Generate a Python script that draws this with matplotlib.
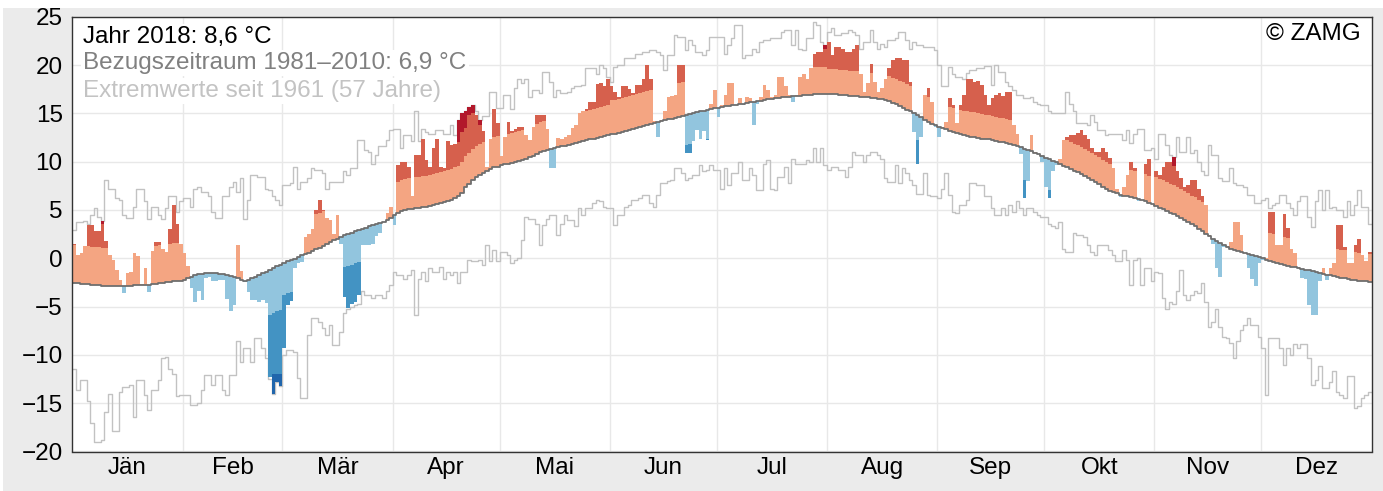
import numpy as np
import matplotlib
matplotlib.use('Agg')
import matplotlib.pyplot as plt
from matplotlib.patches import Rectangle

# ---------------- data ----------------
months = ['Jän', 'Feb', 'Mär', 'Apr', 'Mai', 'Jun', 'Jul', 'Aug', 'Sep', 'Okt', 'Nov', 'Dez']
month_days = [31, 28, 31, 30, 31, 30, 31, 31, 30, 31, 30, 31]

# daily mean temperature 2018 (°C)
temp_2018 = [
    1.5, 0.3, 0.5, 1.3, 3.4, 3.4, 2.8, 2.8, 3.9, 1.8,
    0.3, -0.2, -1.2, -2.2, -3.6, -1.5, -1.4, 0.5, 0.2, -2.7,
    -1.0, -3.5, 0.8, 1.7, 1.7, 1.0, 0.7, 3.0, 5.5, 3.5,
    1.5, 0.6, -0.8, -3.1, -4.5, -3.4, -4.3, -2.0, -1.9, -2.3,
    -2.3, -2.2, -2.2, -4.2, -5.5, -4.8, 1.4, -1.3, -2.5, -3.5,
    -4.3, -4.3, -4.5, -4.3, -4.6, -12.3, -14.0, -12.8, -13.2, -9.3,
    -4.8, -4.4, -1.0, -0.5, -0.4, 2.2, 2.5, 3.0, 5.0, 6.0,
    5.0, 4.2, 4.0, 2.5, 4.5, 1.5, -4.0, -5.1, -4.7, -4.5,
    -3.8, 1.4, 1.4, 1.4, 1.5, 2.3, 2.6, 3.8, 4.7, 5.3,
    3.4, 9.7, 10.0, 10.0, 9.4, 6.4, 10.7, 10.7, 12.4, 10.2,
    9.5, 11.4, 12.4, 9.4, 9.3, 12.1, 11.7, 11.8, 14.3, 15.0,
    15.2, 15.7, 15.9, 14.8, 14.3, 13.2, 9.5, 12.4, 15.5, 14.0,
    10.6, 12.6, 14.1, 13.2, 13.4, 13.6, 13.6, 12.8, 12.2, 13.6,
    14.8, 14.8, 14.8, 13.4, 9.3, 9.3, 12.5, 12.3, 12.6, 12.8,
    13.5, 13.8, 15.0, 15.2, 15.5, 16.2, 16.2, 18.0, 18.1, 17.8,
    18.6, 17.8, 17.2, 16.7, 17.8, 17.8, 17.5, 17.1, 17.9, 17.9,
    18.6, 20.0, 18.6, 14.2, 12.6, 14.3, 15.3, 16.7, 16.8, 16.9,
    20.0, 20.0, 10.9, 10.9, 12.1, 13.3, 12.3, 13.2, 12.2, 16.0,
    17.4, 14.6, 15.9, 16.9, 18.1, 18.1, 15.9, 16.6, 15.9, 16.7,
    16.6, 13.8, 16.0, 16.7, 17.9, 17.4, 16.7, 16.9, 18.8, 18.8,
    17.8, 16.9, 16.2, 16.9, 18.8, 19.1, 18.6, 19.7, 21.2, 21.4,
    21.4, 22.1, 22.4, 21.0, 21.9, 21.9, 21.7, 21.4, 21.4, 21.7,
    22.1, 19.1, 17.2, 18.1, 20.1, 18.3, 17.2, 17.6, 18.6, 19.7,
    20.5, 20.7, 20.7, 20.5, 20.5, 18.3, 13.1, 9.8, 12.6, 16.9,
    17.6, 16.2, 13.6, 12.6, 13.6, 14.1, 16.6, 15.9, 14.0, 15.9,
    16.9, 18.6, 18.6, 18.3, 18.4, 17.9, 16.9, 15.9, 16.6, 16.9,
    17.1, 16.8, 17.2, 17.2, 13.8, 12.9, 10.8, 6.2, 8.0, 12.8,
    11.0, 10.8, 10.0, 7.4, 6.2, 9.0, 9.7, 10.3, 12.2, 12.6,
    12.8, 12.8, 13.0, 13.3, 12.8, 12.4, 11.4, 11.0, 11.0, 11.4,
    11.0, 10.4, 9.3, 7.2, 6.3, 7.4, 8.6, 10.0, 9.3, 5.9,
    6.0, 9.8, 10.3, 5.6, 9.0, 8.6, 9.5, 10.0, 10.0, 10.5,
    9.0, 8.3, 7.4, 7.6, 8.1, 8.1, 7.2, 6.4, 5.5, 2.4,
    1.5, -1.0, -1.9, 1.2, 1.3, 1.7, 3.8, 3.8, 2.4, 0.5,
    -1.0, -2.1, -2.9, -0.5, -0.2, 0.0, 4.8, 4.8, 1.4, 1.4,
    4.6, 3.1, 1.0, 0.5, -0.9, -2.0, -2.1, -4.8, -5.9, -5.9,
    -2.4, -1.0, -2.2, -1.0, -0.5, 3.4, 3.4, 1.2, -0.5, -0.5,
    1.4, 2.0, 0.3, -0.3, 0.7,
]

# reference period 1981-2010 daily mean (°C)
clim_1981_2010 = [
    -2.6, -2.6, -2.7, -2.7, -2.7, -2.8, -2.8, -2.8, -2.9, -2.9,
    -2.9, -2.9, -2.9, -2.9, -2.9, -2.9, -2.9, -2.8, -2.8, -2.8,
    -2.8, -2.8, -2.7, -2.7, -2.6, -2.6, -2.5, -2.5, -2.4, -2.4,
    -2.3, -2.2, -2.0, -1.9, -1.7, -1.6, -1.6, -1.5, -1.5, -1.5,
    -1.5, -1.6, -1.6, -1.7, -1.8, -1.9, -2.0, -2.2, -2.3, -2.2,
    -2.0, -1.9, -1.7, -1.5, -1.4, -1.2, -1.0, -0.8, -0.7, -0.5,
    -0.3, -0.2, -0.1, 0.1, 0.3, 0.4, 0.6, 0.8, 1.0, 1.1,
    1.3, 1.5, 1.7, 1.9, 2.0, 2.2, 2.4, 2.5, 2.6, 2.8,
    2.9, 3.0, 3.1, 3.3, 3.4, 3.5, 3.7, 3.8, 4.0, 4.2,
    4.5, 4.7, 4.9, 5.0, 5.1, 5.1, 5.2, 5.2, 5.3, 5.3,
    5.4, 5.5, 5.6, 5.7, 5.8, 5.9, 6.0, 6.2, 6.4, 6.8,
    7.4, 7.7, 8.1, 8.4, 8.6, 8.8, 9.0, 9.2, 9.4, 9.5,
    9.7, 9.8, 9.8, 9.9, 10.0, 10.1, 10.2, 10.3, 10.5, 10.6,
    10.8, 11.0, 11.1, 11.2, 11.3, 11.4, 11.5, 11.6, 11.6, 11.7,
    11.8, 11.9, 12.0, 12.1, 12.2, 12.3, 12.4, 12.5, 12.6, 12.7,
    12.8, 12.9, 12.9, 13.0, 13.1, 13.2, 13.3, 13.4, 13.5, 13.6,
    13.7, 13.8, 13.9, 14.0, 14.1, 14.2, 14.3, 14.4, 14.4, 14.5,
    14.6, 14.7, 14.8, 14.9, 15.0, 15.1, 15.2, 15.3, 15.4, 15.5,
    15.6, 15.6, 15.7, 15.8, 15.8, 15.9, 15.9, 16.0, 16.0, 16.1,
    16.2, 16.2, 16.3, 16.3, 16.4, 16.5, 16.5, 16.6, 16.6, 16.7,
    16.7, 16.7, 16.8, 16.8, 16.8, 16.9, 16.9, 16.9, 17.0, 17.0,
    17.0, 17.0, 17.0, 17.0, 17.0, 16.9, 16.9, 16.9, 16.8, 16.8,
    16.8, 16.7, 16.7, 16.7, 16.6, 16.6, 16.5, 16.5, 16.4, 16.3,
    16.1, 16.0, 15.8, 15.6, 15.4, 15.2, 15.0, 14.8, 14.6, 14.3,
    14.1, 13.9, 13.8, 13.6, 13.5, 13.4, 13.2, 13.1, 13.0, 12.9,
    12.8, 12.7, 12.6, 12.6, 12.5, 12.4, 12.3, 12.3, 12.2, 12.1,
    12.0, 12.0, 11.9, 11.8, 11.7, 11.6, 11.5, 11.3, 11.2, 11.1,
    10.9, 10.8, 10.6, 10.4, 10.3, 10.1, 10.0, 9.8, 9.6, 9.4,
    9.2, 9.0, 8.9, 8.7, 8.5, 8.3, 8.1, 7.9, 7.7, 7.4,
    7.2, 7.0, 6.9, 6.8, 6.6, 6.5, 6.4, 6.3, 6.2, 6.1,
    6.0, 5.9, 5.7, 5.6, 5.4, 5.2, 5.1, 4.9, 4.7, 4.6,
    4.4, 4.2, 4.0, 3.8, 3.5, 3.3, 3.0, 2.8, 2.5, 2.3,
    2.0, 1.8, 1.6, 1.4, 1.2, 1.0, 0.9, 0.8, 0.7, 0.5,
    0.4, 0.3, 0.2, 0.1, 0.0, -0.2, -0.3, -0.4, -0.5, -0.6,
    -0.7, -0.8, -0.9, -0.9, -1.0, -1.1, -1.2, -1.2, -1.3, -1.4,
    -1.5, -1.6, -1.7, -1.7, -1.8, -1.9, -2.0, -2.0, -2.1, -2.2,
    -2.2, -2.3, -2.4, -2.4, -2.5,
]

# daily extreme values since 1961 (°C)
record_max = [
    2.9, 3.8, 3.8, 3.9, 3.6, 4.5, 5.2, 4.3, 3.9, 8.1,
    7.2, 7.2, 6.2, 6.0, 4.5, 4.2, 4.2, 5.3, 7.2, 7.2,
    5.9, 4.1, 5.3, 5.3, 4.5, 4.1, 5.2, 6.4, 6.4, 4.8,
    5.9, 6.2, 6.2, 5.3, 7.2, 7.4, 6.9, 6.9, 6.4, 4.8,
    4.2, 4.2, 6.4, 6.4, 7.4, 7.9, 6.9, 8.3, 4.1, 6.0,
    8.6, 8.6, 8.4, 8.4, 7.2, 7.1, 6.4, 6.0, 5.5, 7.6,
    7.6, 7.8, 9.5, 7.2, 7.9, 7.9, 8.3, 9.3, 9.1, 9.1,
    8.8, 7.2, 7.9, 7.9, 7.9, 7.9, 9.0, 8.6, 9.3, 9.3,
    12.2, 12.2, 11.2, 11.0, 9.8, 10.7, 11.6, 11.6, 12.2, 13.3,
    13.4, 13.4, 11.4, 12.8, 12.8, 12.1, 15.2, 12.1, 13.4, 13.1,
    12.9, 12.9, 13.3, 13.3, 12.9, 12.9, 13.8, 12.8, 14.3, 15.0,
    15.2, 15.7, 15.9, 15.2, 14.3, 14.7, 14.7, 17.2, 17.2, 15.6,
    15.6, 16.9, 16.9, 15.5, 17.6, 18.6, 18.1, 18.6, 16.7, 17.4,
    17.4, 17.1, 19.3, 19.3, 18.3, 16.7, 17.4, 17.1, 17.1, 17.2,
    17.6, 17.8, 17.8, 17.9, 19.7, 19.7, 19.7, 19.1, 20.0, 19.7,
    18.8, 18.3, 19.8, 20.0, 20.0, 20.7, 20.7, 20.7, 21.2, 21.2,
    21.4, 21.4, 21.6, 21.6, 21.4, 21.0, 19.5, 21.0, 21.0, 23.1,
    22.9, 22.9, 21.6, 22.6, 22.1, 21.4, 21.4, 21.0, 21.6, 22.9,
    22.9, 22.9, 22.9, 21.2, 22.1, 22.8, 24.1, 24.1, 20.7, 21.0,
    21.0, 21.7, 21.4, 22.4, 22.6, 22.6, 22.8, 22.8, 22.8, 23.4,
    23.6, 23.6, 22.1, 23.6, 21.7, 21.6, 22.8, 22.8, 24.5, 24.1,
    22.4, 22.1, 23.4, 23.8, 23.1, 23.1, 23.3, 23.3, 23.6, 23.4,
    23.1, 21.7, 22.4, 22.4, 23.6, 22.4, 21.7, 22.2, 21.9, 22.6,
    22.6, 22.8, 23.4, 23.4, 22.6, 21.7, 22.4, 22.1, 22.1, 21.9,
    21.9, 21.9, 21.6, 20.0, 17.8, 17.8, 19.8, 19.1, 18.8, 18.8,
    18.6, 19.2, 19.5, 19.5, 19.7, 19.7, 19.9, 19.9, 17.9, 20.0,
    19.3, 19.3, 18.3, 17.8, 17.4, 16.9, 16.9, 16.6, 16.6, 16.7,
    16.2, 16.0, 15.9, 15.9, 15.2, 15.0, 15.0, 15.0, 15.0, 17.2,
    16.0, 15.2, 14.0, 14.0, 14.0, 13.8, 14.8, 14.1, 13.3, 13.3,
    12.8, 12.9, 12.9, 12.9, 12.9, 12.2, 13.3, 11.9, 12.9, 13.4,
    13.4, 11.2, 11.2, 11.4, 10.3, 12.9, 12.9, 11.7, 10.7, 10.5,
    12.6, 11.0, 11.0, 12.6, 10.9, 11.2, 10.0, 9.0, 8.6, 11.7,
    10.7, 10.7, 8.3, 8.0, 8.0, 9.3, 7.8, 7.6, 7.6, 7.4,
    6.6, 6.6, 5.7, 5.7, 6.0, 6.2, 5.2, 5.5, 5.7, 6.6,
    6.6, 5.7, 5.2, 4.5, 5.9, 6.4, 6.4, 4.3, 3.2, 5.9,
    7.1, 5.0, 7.1, 5.2, 5.3, 5.0, 5.0, 4.3, 5.9, 4.5,
    5.5, 7.1, 5.3, 5.3, 3.6,
]

record_min = [
    -11.5, -13.6, -12.6, -12.6, -14.8, -17.1, -19.0, -19.0, -18.8, -15.9,
    -14.0, -17.9, -17.9, -13.8, -13.3, -13.3, -13.1, -16.4, -12.6, -12.6,
    -14.1, -15.7, -13.6, -13.6, -12.6, -10.3, -10.2, -11.5, -12.0, -14.3,
    -14.1, -14.1, -14.1, -15.2, -15.2,
    -15.0, -13.6, -12.1, -12.1, -13.1, -12.1, -12.1, -13.6, -14.1, -12.1,
    -12.1, -8.6, -10.7, -9.3, -9.3, -10.7, -8.3, -8.3, -9.3, -10.3,
    -12.5, -14.0, -12.8, -13.2, -10.0, -9.5, -9.5, -9.7, -12.4, -14.5,
    -14.5, -7.9, -6.2, -6.2, -6.6, -7.2, -7.9, -6.9,
    -9.0, -9.0, -7.6, -5.7, -5.2, -5.0, -4.8, -4.7, -3.4, -3.8,
    -3.8, -4.1, -3.8, -3.8, -4.1, -3.4, -2.8, -1.4, -1.7, -1.7,
    -2.1, -1.7, -1.2, -5.9, -2.1, -1.4, -2.4, -1.0, -1.4, -1.4,
    -0.9, -2.1, -1.4, -1.7, -1.4,
    -2.6, -1.4, -1.4, -0.2, -0.3, -0.3, -0.2, -0.7, 1.4, -0.3,
    0.9, -0.3, 0.7, 0.7, 0.3, -0.5, -0.2, 0.0, 1.9, 4.3,
    4.1, 4.1, 3.6, 1.4, 3.4, 4.1, 4.5, 4.5, 2.4, 3.6,
    4.5, 4.0, 4.0, 3.3, 5.2, 4.5, 5.2,
    5.2, 5.7, 6.0, 5.9, 5.3, 5.2, 5.2, 3.4, 4.5, 4.5,
    5.3, 5.5, 6.0, 6.0, 6.2, 6.6, 6.6, 5.7, 5.3, 6.6,
    7.8, 7.8, 8.0, 8.1, 9.3, 9.3, 8.8, 8.1, 8.3, 8.6,
    8.6, 9.7, 9.0, 9.1, 9.7, 9.1,
    9.1, 7.2, 9.3, 7.6, 8.8, 8.8, 10.0, 8.1, 8.1, 9.3,
    8.6, 7.1, 7.1, 9.8, 10.2, 7.2, 7.1, 8.4, 8.4, 9.5,
    7.8, 10.3, 9.8, 9.8, 9.8, 10.2, 10.0, 11.4, 10.0, 11.4,
    9.7, 9.1, 9.5, 9.5, 9.1, 9.1, 8.4, 9.5,
    11.0, 10.7, 10.7, 10.0, 10.7, 11.0, 11.0, 10.7, 10.3, 8.3,
    7.9, 7.9, 9.7, 7.8, 9.3, 8.8, 8.1, 7.6, 6.7, 6.7,
    8.8, 6.6, 6.4, 6.4, 6.2, 7.2, 8.8, 6.6, 4.8, 4.7,
    5.5, 5.5, 6.0, 7.8, 7.8,
    7.6, 7.6, 6.4, 6.4, 5.2, 4.5, 4.5, 5.2, 4.5, 5.5,
    4.8, 5.9, 5.2, 4.5, 5.2, 5.2, 4.8, 4.5, 4.3, 4.3,
    3.6, 3.3, 3.1, 3.8, 1.0, 0.7, 0.7, 2.6, 2.4, 2.4,
    2.2, 1.4, 0.7, 0.3, 1.4, 1.4, 1.4, 0.9,
    0.3, -0.3, -0.3, 0.9, -0.2, -2.8, -0.2, 0.0, -2.8, -1.0,
    -1.0, -2.4, -1.4, -1.5, -4.1, -5.2, -4.5, -4.7, -3.4, -1.2,
    -3.8, -4.3, -3.8, -3.4, -3.6, -2.6, -4.5, -7.1, -6.6, -5.3,
    -7.1, -8.1, -8.3, -8.8, -10.3,
    -8.6, -7.4, -6.9, -6.2, -6.9, -6.9, -8.1, -9.3, -14.1, -8.3,
    -8.3, -8.3, -9.3, -11.0, -9.3, -10.0, -8.9, -9.3, -8.9, -8.9,
    -10.3, -13.1, -12.6, -11.2, -13.4, -13.4, -12.8, -11.7, -13.8, -14.1,
    -14.5, -12.2, -12.2, -15.5, -15.3, -14.5, -14.1, -13.8,
]

# days on which 2018 broke the old record, and the old record value
record_days = [8, 56, 57, 58, 108, 109, 110, 111, 112, 114, 211, 309]
record_prev = [3.6, -12.0, -12.0, -12.0, 12.0, 13.1, 13.5, 14.8, 15.0, 13.8, 21.7, 9.6]

# width of the "normal" anomaly band per month (°C above / below reference)
band_upper = [4.0, 3.8, 3.6, 3.2, 3.1, 3.5, 2.8, 2.6, 2.5, 2.8, 3.0, 2.9]
band_lower = [5.0, 4.7, 3.3, 3.2, 3.0, 3.1, 2.8, 2.6, 3.2, 3.2, 4.0, 5.0]

# ---------------- styling ----------------
plt.rcParams['font.family'] = ['Liberation Sans', 'DejaVu Sans']
FS = 17.5
C_LR, C_R, C_DR = '#f4a582', '#d6604d', '#b2182b'
C_LB, C_B, C_DB = '#92c5de', '#4393c3', '#2166ac'

W, H = 1383, 491
fig = plt.figure(figsize=(W / 100, H / 100), dpi=100)
fig.patch.set_facecolor('white')
fig.add_artist(Rectangle((3 / W, 0), 1, (H - 8) / H, transform=fig.transFigure,
                         facecolor='#ebebeb', edgecolor='none', zorder=-10))

ax = fig.add_axes([72.4 / W, (H - 451.5) / H, 1299.1 / W, (451.5 - 16.8) / H])
ax.set_facecolor('white')

T = np.array(temp_2018, float)
C = np.array(clim_1981_2010, float)
MX = np.array(record_max, float)
MN = np.array(record_min, float)
n = len(T)
x = np.arange(n)
midx = np.repeat(np.arange(12), month_days)[:n]
wu = np.array(band_upper)[midx]
wl = np.array(band_lower)[midx]
prev = T.copy()
for d, p in zip(record_days, record_prev):
    prev[d] = p


def bars(mask, lo, hi, color):
    m = mask & (hi > lo)
    ax.bar(x[m], (hi - lo)[m], bottom=lo[m], width=1.0, align='edge',
           color=color, linewidth=0, antialiased=False, zorder=2)


warm = T > C
cold = T < C
# warm side
bars(warm, C, np.minimum(T, C + wu), C_LR)
bars(warm, C + wu, np.minimum(T, np.maximum(prev, C + wu)), C_R)
bars(warm, np.maximum(prev, C), T, C_DR)
# cold side
bars(cold, np.maximum(T, C - wl), C, C_LB)
bars(cold, np.maximum(T, np.minimum(prev, C - wl)), C - wl, C_B)
bars(cold, T, np.minimum(prev, C), C_DB)

xe = np.arange(n + 1)
ax.step(xe, np.r_[MX, MX[-1]], where='post', color='#c2c2c2', lw=1.0, zorder=1.5)
ax.step(xe, np.r_[MN, MN[-1]], where='post', color='#c2c2c2', lw=1.0, zorder=1.5)
ax.step(xe, np.r_[C, C[-1]], where='post', color='#6e6e6e', lw=1.3, zorder=4)

month_starts = np.r_[0, np.cumsum(month_days)]
ax.set_xlim(0, 365)
ax.set_ylim(-20, 25)
ax.set_yticks(np.arange(-20, 26, 5))
ax.set_xticks(month_starts[1:-1])
ax.set_xticklabels([])
ax.set_xticks((month_starts[:-1] + month_starts[1:]) / 2, minor=True)
ax.set_xticklabels(months, minor=True)
ax.tick_params(axis='both', which='both', length=0, labelsize=FS, colors='black')
ax.tick_params(axis='y', pad=7)
ax.tick_params(axis='x', which='minor', pad=4)
ax.grid(True, which='major', color='#e8e8e8', lw=1.0)
ax.set_axisbelow(True)
for s in ax.spines.values():
    s.set_color('#333333')
    s.set_linewidth(1.0)
    s.set_zorder(6)

bb = dict(facecolor='white', edgecolor='none', pad=1.5)
ax.text(0.0085, 0.9404, 'Jahr 2018: 8,6 °C', transform=ax.transAxes, fontsize=FS,
        color='black', va='baseline', ha='left', bbox=bb, zorder=5)
ax.text(0.0085, 0.880, 'Bezugszeitraum 1981–2010: 6,9 °C', transform=ax.transAxes,
        fontsize=FS, color='#808080', va='baseline', ha='left', bbox=bb, zorder=5)
ax.text(0.0085, 0.8162, 'Extremwerte seit 1961 (57 Jahre)', transform=ax.transAxes,
        fontsize=FS, color='#c3c3c3', va='baseline', ha='left', bbox=bb, zorder=5)
ax.text(0.9919, 0.9462, '© ZAMG', transform=ax.transAxes, fontsize=FS,
        color='black', va='baseline', ha='right', zorder=5)

fig.savefig('out.png', dpi=100, facecolor=fig.get_facecolor())
